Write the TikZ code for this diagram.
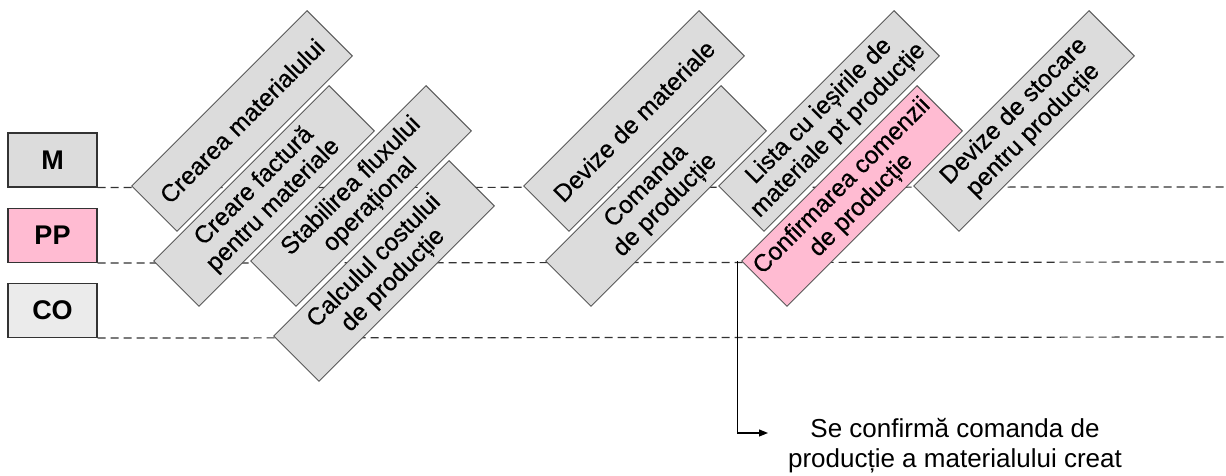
\documentclass[tikz,border=0pt]{standalone}
\usepackage{fontspec}
\setmainfont{Liberation Sans}
\newfontfamily\boxfont{Liberation Sans}[FakeBold=0.5]
\usetikzlibrary{arrows.meta}
\definecolor{boxgray}{HTML}{DCDCDC}
\definecolor{cogray}{HTML}{EBEBEB}
\definecolor{pinkbox}{HTML}{FFBBD2}
\definecolor{edgegray}{HTML}{5A5A5A}
\definecolor{lanegray}{HTML}{333333}
\begin{document}
\begin{tikzpicture}[x=1pt,y=1pt,
  lanebox/.style={draw=lanegray, line width=1.1pt, minimum width=89pt, minimum height=54pt,
    inner sep=0pt, font=\fontsize{27}{30}\selectfont\bfseries},
  stepbox/.style={draw=edgegray, line width=0.9pt, fill=boxgray, rotate=45,
    minimum width=248pt, minimum height=64pt, inner sep=0pt, align=center,
    font=\boxfont\fontsize{24.5}{27}\selectfont},
  laneline/.style={draw=lanegray, line width=1.2pt, dash pattern=on 8pt off 5pt},
  note/.style={align=center, inner sep=0pt, font=\fontsize{26}{30}\selectfont}
]
\fill[white] (0,0) rectangle (1226,476);
\useasboundingbox (0,0) rectangle (1226,476);

% lane labels
\node[lanebox, fill=boxgray] (M) at (52.5,316) {M};
\node[lanebox, fill=pinkbox] (PP) at (52.5,240.5) {PP};
\node[lanebox, fill=cogray] (CO) at (52.5,165.5) {CO};

% lane separators
\coordinate (Mend) at (1226,289);
\coordinate (PPend) at (1226,214);
\coordinate (COend) at (1226,139);
\draw[laneline] (M.south east) -- (Mend);
\draw[laneline] (PP.south east) -- (PPend);
\draw[laneline] (CO.south east) -- (COend);

% process steps
\node[stepbox] (c1) at (242,355) {Crearea materialului};
\node[stepbox] (c2) at (264,280) {Creare factură\\pentru materiale};
\node[stepbox] (c3) at (361,280) {Stabilirea fluxului\\operațional};
\node[stepbox] (c4) at (384,205) {Calculul costului\\de producție};
\node[stepbox] (c5) at (634,355) {Devize de materiale};
\node[stepbox] (c6) at (656,280) {Comanda\\de producție};
\node[stepbox] (c7) at (829,355) {Lista cu ieșirile de\\materiale pt producție};
\node[stepbox, fill=pinkbox] (c8) at (852,280) {Confirmarea comenzii\\de producție};
\node[stepbox] (c9) at (1024,355) {Devize de stocare\\pentru producție};

% note
\node[note, anchor=base] (nt) at (955,8) {Se confirmă comanda de\\producție a materialului creat};
\coordinate (tip) at (768,43);
\draw[line width=1.1pt, -{Triangle[length=9pt,width=7pt]}] ([xshift=-4pt]c8.north west) |- (tip);
\end{tikzpicture}
\end{document}
